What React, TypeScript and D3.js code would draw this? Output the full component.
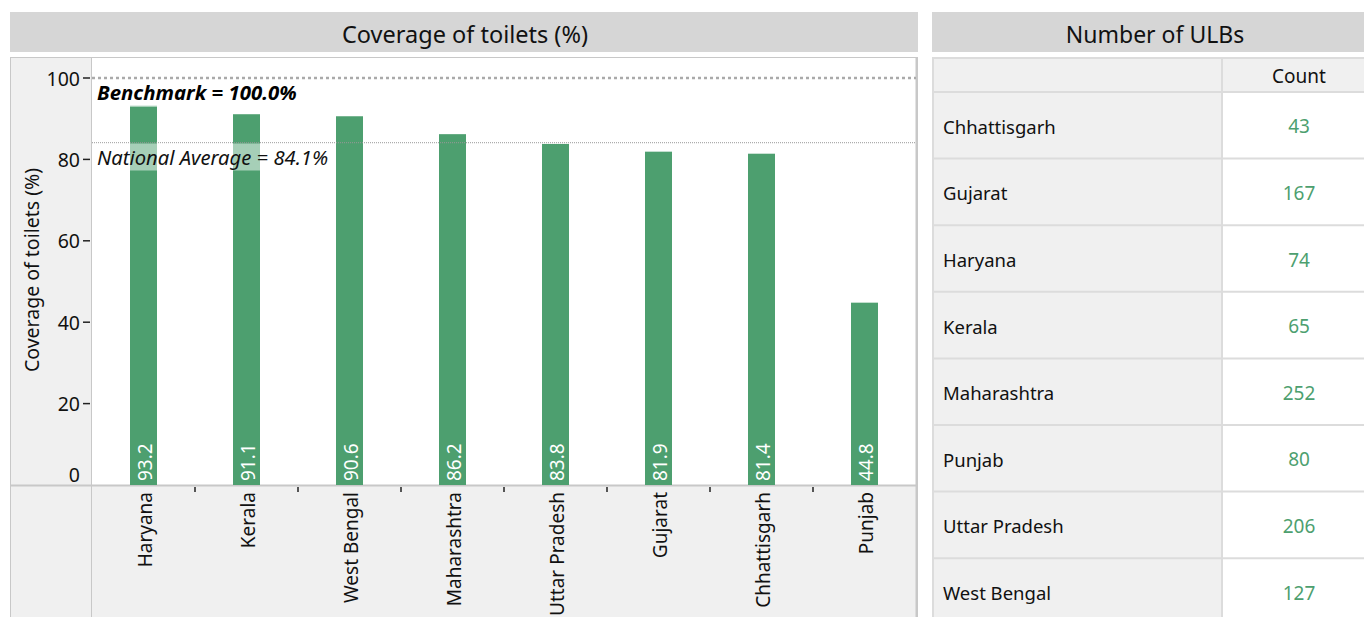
import React from "react";
import * as d3 from "d3";

const states = ["Haryana", "Kerala", "West Bengal", "Maharashtra", "Uttar Pradesh", "Gujarat", "Chhattisgarh", "Punjab"];
const coverage = [93.2, 91.1, 90.6, 86.2, 83.8, 81.9, 81.4, 44.8];
const yTicks = [0, 20, 40, 60, 80, 100];
const benchmark = 100.0;
const nationalAverage = 84.1;

const tableStates = ["Chhattisgarh", "Gujarat", "Haryana", "Kerala", "Maharashtra", "Punjab", "Uttar Pradesh", "West Bengal"];
const ulbCounts = [43, 167, 74, 65, 252, 80, 206, 127];

const FONT = "'Noto Sans', 'Open Sans', sans-serif";
const GREEN = "#4d9f6f";
const GRID_GRAY = "#c8c8c8";

export default function App() {
  // plot area of the bar chart
  const px0 = 92, px1 = 916, py0 = 58, py1 = 485;
  const x = d3.scaleBand<string>().domain(states).range([px0, px1]).paddingInner(0).paddingOuter(0);
  const y = d3.scaleLinear().domain([0, 100]).range([485, 78]);
  const barW = 27;

  // table geometry
  const tx0 = 932, tx1 = 1364, tSplit = 1222, tTop = 58, headH = 34;
  const rowH = 66.6;
  const ty = (i: number) => tTop + headH + i * rowH;

  return (
    <div style={{ position: "fixed", left: 0, top: 0 }}>
      <svg width={1364} height={617} style={{ display: "block", fontFamily: FONT }}>
        <rect x={0} y={0} width={1364} height={617} fill="#ffffff" />

        {/* chart title bar */}
        <rect x={10} y={12} width={908} height={40} fill="#d6d6d6" />
        <text x={465} y={34} textAnchor="middle" dominantBaseline="central" fontSize={23.5} fill="#111">
          Coverage of toilets (%)
        </text>

        {/* chart frame */}
        <rect x={10.5} y={57.5} width={907} height={570} fill="#f0f0f0" stroke={GRID_GRAY} strokeWidth={1} />
        <rect x={px0} y={py0} width={px1 - px0} height={py1 - py0} fill="#ffffff" />
        <line x1={91.5} x2={91.5} y1={58} y2={617} stroke={GRID_GRAY} />
        <line x1={10} x2={918} y1={485.5} y2={485.5} stroke={GRID_GRAY} strokeWidth={2} />
        <line x1={916.5} x2={916.5} y1={58} y2={617} stroke={GRID_GRAY} strokeWidth={2} />

        {/* y axis */}
        {yTicks.map((t) => (
          <g key={t}>
            {t > 0 && <line x1={83} x2={90} y1={y(t)} y2={y(t)} stroke="#222" strokeWidth={1.5} />}
            <text x={80} y={t === 0 ? y(t) - 11 : y(t)} textAnchor="end" dominantBaseline="central" fontSize={19.5} fill="#111">
              {t}
            </text>
          </g>
        ))}
        <text
          transform={`translate(31, 270) rotate(-90)`}
          textAnchor="middle"
          dominantBaseline="central"
          fontSize={19.5}
          fill="#111"
        >
          Coverage of toilets (%)
        </text>

        {/* x axis ticks between categories */}
        {states.slice(1).map((s) => (
          <line key={s} x1={x(s)!} x2={x(s)!} y1={487} y2={492} stroke="#222" strokeWidth={1.5} />
        ))}

        {/* bars */}
        {states.map((s, i) => {
          const cx = x(s)! + x.bandwidth() / 2;
          return (
            <g key={s}>
              <rect x={cx - barW / 2} y={y(coverage[i])} width={barW} height={y(0) - y(coverage[i])} fill={GREEN} />
              <text
                transform={`translate(${cx + 1}, ${y(0) - 4}) rotate(-90)`}
                textAnchor="start"
                dominantBaseline="central"
                fontSize={19}
                fill="#ffffff"
              >
                {coverage[i].toFixed(1)}
              </text>
              <text
                transform={`translate(${cx + 1}, 492) rotate(-90)`}
                textAnchor="end"
                dominantBaseline="central"
                fontSize={19}
                fill="#111"
              >
                {s}
              </text>
            </g>
          );
        })}

        {/* reference lines */}
        <line x1={px0} x2={px1} y1={y(benchmark)} y2={y(benchmark)} stroke="#aaaaaa" strokeWidth={2.5} strokeDasharray="3 3" />
        <line x1={px0} x2={px1} y1={y(nationalAverage)} y2={y(nationalAverage)} stroke="#999999" strokeWidth={1} strokeDasharray="1 1" />

        <rect x={96} y={83} width={203} height={24} fill="#ffffff" opacity={0.5} />
        <text x={97} y={100} fontSize={20.4} fontWeight="bold" fontStyle="italic" fill="#000">
          Benchmark = {benchmark.toFixed(1)}%
        </text>
        <rect x={96} y={143.5} width={233} height={27} fill="#ffffff" opacity={0.5} />
        <text x={97} y={165} fontSize={20.2} fontStyle="italic" fill="#111">
          National Average = {nationalAverage.toFixed(1)}%
        </text>

        {/* table title bar */}
        <rect x={932} y={12} width={432} height={40} fill="#d6d6d6" />
        <text x={1155} y={34} textAnchor="middle" dominantBaseline="central" fontSize={23} fill="#111">
          Number of ULBs
        </text>

        {/* table */}
        <rect x={tx0} y={tTop} width={tSplit - tx0} height={617 - tTop} fill="#f0f0f0" />
        <rect x={tSplit} y={tTop} width={tx1 - tSplit} height={headH} fill="#f0f0f0" />
        <rect x={tSplit} y={tTop + headH} width={tx1 - tSplit} height={617 - tTop - headH} fill="#ffffff" />
        <line x1={tx0} x2={tx1} y1={tTop} y2={tTop} stroke="#dcdcdc" strokeWidth={2} />
        <line x1={tx0 + 1} x2={tx0 + 1} y1={tTop} y2={617} stroke="#dcdcdc" strokeWidth={2} />
        <line x1={tSplit} x2={tSplit} y1={tTop} y2={617} stroke="#dcdcdc" strokeWidth={2} />
        <line x1={tx0} x2={tx1} y1={tTop + headH} y2={tTop + headH} stroke="#dcdcdc" strokeWidth={2} />
        <text x={(tSplit + tx1) / 2 + 6} y={tTop + headH / 2 + 1} textAnchor="middle" dominantBaseline="central" fontSize={19} fill="#111">
          Count
        </text>
        {tableStates.map((s, i) => (
          <g key={s}>
            <line x1={tx0} x2={tx1} y1={ty(i + 1)} y2={ty(i + 1)} stroke="#dcdcdc" strokeWidth={2} />
            <text x={943} y={ty(i) + rowH / 2 + 1} dominantBaseline="central" fontSize={18.5} fill="#111">
              {s}
            </text>
            <text x={(tSplit + tx1) / 2 + 6} y={ty(i) + rowH / 2 + 1} textAnchor="middle" dominantBaseline="central" fontSize={19} fill={GREEN}>
              {ulbCounts[i]}
            </text>
          </g>
        ))}
      </svg>
    </div>
  );
}
